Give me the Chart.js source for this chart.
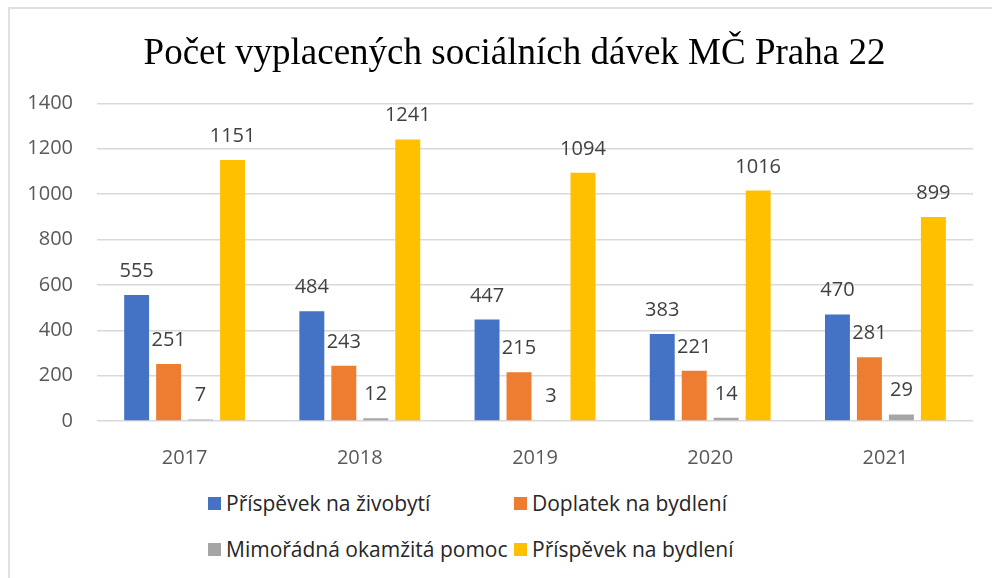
<!DOCTYPE html>
<html lang="cs">
<head>
<meta charset="utf-8">
<title>Počet vyplacených sociálních dávek MČ Praha 22</title>
<script src="https://cdn.jsdelivr.net/npm/chart.js@4.4.0/dist/chart.umd.min.js"></script>
<style>
  html, body { margin: 0; padding: 0; background: #fff; overflow: hidden; width: 992px; height: 578px; }
  #frame {
    position: absolute; left: 8px; top: 7px; width: 2000px; height: 2000px;
    border-left: 2px solid #e0e0e0; border-top: 2px solid #e0e0e0;
    pointer-events: none;
  }
  #chart-wrap { position: absolute; left: -6px; top: 0; width: 983px; height: 470px; }
  #legend {
    position: absolute; left: 208px; top: 488px;
    display: grid; grid-template-columns: 306px 306px; row-gap: 16px;
    font-family: "Open Sans", sans-serif; font-size: 21px; color: #262626;
  }
  #legend .item { display: flex; align-items: center; height: 30px; white-space: nowrap; }
  #legend .swatch { width: 13px; height: 13px; margin-right: 5px; flex: none; }
</style>
</head>
<body>
<div id="chart-wrap"><canvas id="js-chart-davky" width="983" height="470"></canvas></div>
<div id="legend"></div>
<div id="frame"></div>
<script>
// Data
const years = ['2017', '2018', '2019', '2020', '2021'];
const zivobyti = [555, 484, 447, 383, 470];
const doplatekBydleni = [251, 243, 215, 221, 281];
const mimoradnaPomoc = [7, 12, 3, 14, 29];
const prispevekBydleni = [1151, 1241, 1094, 1016, 899];
const yTicks = [0, 200, 400, 600, 800, 1000, 1200, 1400];

// Value labels above bars (no datalabels plugin available)
const barValueLabels = {
  id: 'barValueLabels',
  afterDatasetsDraw(chart) {
    const ctx = chart.ctx;
    ctx.save();
    ctx.font = '20px "Open Sans"';
    ctx.fillStyle = '#404040';
    ctx.textAlign = 'center';
    ctx.textBaseline = 'alphabetic';
    chart.data.datasets.forEach((ds, i) => {
      chart.getDatasetMeta(i).data.forEach((bar, j) => {
        ctx.fillText(ds.data[j], bar.x, bar.y - 18);
      });
    });
    ctx.restore();
  }
};

// The original title sits a bit right of the plot centre
const titleShift = {
  id: 'titleShift',
  afterLayout(chart) {
    if (chart.titleBlock) {
      chart.titleBlock.left += 21;
      chart.titleBlock.right += 21;
    }
  }
};

// Two-column legend built from the chart's own legend items
const htmlLegend = {
  id: 'htmlLegend',
  afterUpdate(chart) {
    const box = document.getElementById('legend');
    box.innerHTML = '';
    chart.options.plugins.legend.labels.generateLabels(chart).forEach(item => {
      const row = document.createElement('div');
      row.className = 'item';
      const sw = document.createElement('span');
      sw.className = 'swatch';
      sw.style.background = item.fillStyle;
      const txt = document.createElement('span');
      txt.textContent = item.text;
      row.appendChild(sw);
      row.appendChild(txt);
      box.appendChild(row);
    });
  }
};

let chartCon = document.getElementById('js-chart-davky');

let chartData = {
  labels: years,
  datasets: [
    { label: 'Příspěvek na živobytí', data: zivobyti, backgroundColor: '#4472C4' },
    { label: 'Doplatek na bydlení', data: doplatekBydleni, backgroundColor: '#ED7D31' },
    { label: 'Mimořádná okamžitá pomoc', data: mimoradnaPomoc, backgroundColor: '#A5A5A5' },
    { label: 'Příspěvek na bydlení', data: prispevekBydleni, backgroundColor: '#FFC000' }
  ]
};

let chartOptions = {
  responsive: false,
  animation: false,
  datasets: {
    bar: { categoryPercentage: 0.73, barPercentage: 0.78 }
  },
  layout: { padding: { left: 20, right: 4, top: 0, bottom: 0 } },
  scales: {
    x: {
      grid: { display: false },
      border: { display: false },
      ticks: { color: '#595959', font: { family: 'Open Sans', size: 20 }, padding: 17 },
      afterFit(scale) { scale.height = 49; }
    },
    y: {
      min: 0,
      max: 1400,
      afterBuildTicks(scale) { scale.ticks = yTicks.map(v => ({ value: v })); },
      grid: { color: '#d9d9d9', lineWidth: 1.5, drawTicks: false },
      border: { display: false },
      ticks: {
        color: '#595959',
        font: { family: 'Open Sans', size: 20 },
        padding: 24,
        callback: value => String(value)
      },
      afterFit(scale) { scale.width = 83; }
    }
  },
  plugins: {
    legend: { display: false },
    tooltip: { enabled: false },
    title: {
      display: true,
      text: 'Počet vyplacených sociálních dávek MČ Praha 22',
      color: '#000',
      font: { family: 'Liberation Serif', size: 37, weight: 'normal' },
      padding: { top: 32, bottom: 27 }
    }
  }
};

new Chart(chartCon, {
  type: 'bar',
  data: chartData,
  options: chartOptions,
  plugins: [barValueLabels, titleShift, htmlLegend]
});
</script>
</body>
</html>
